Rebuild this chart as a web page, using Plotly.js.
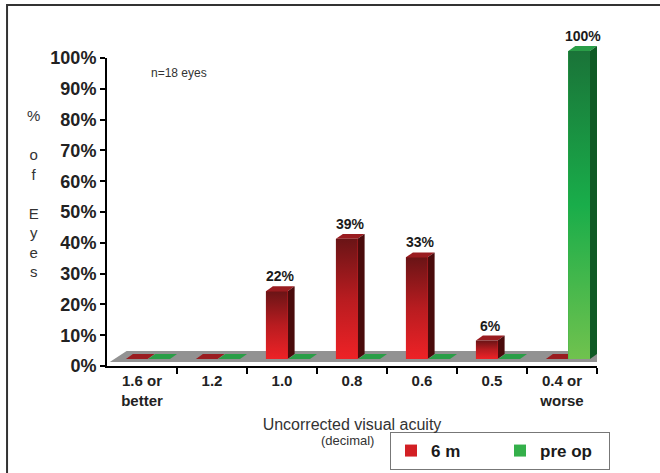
<!DOCTYPE html>
<html><head><meta charset="utf-8">
<script src="https://cdn.plot.ly/plotly-3.0.1.min.js"></script>
<style>html,body{margin:0;padding:0;background:#fff}#chart{width:660px;height:473px}</style>
</head><body><div id="chart"></div>
<script>
// ---- data ----
const categories = ["1.6 or<br>better", "1.2", "1.0", "0.8", "0.6", "0.5", "0.4 or<br>worse"];
const sixMonths = [0, 0, 22, 39, 33, 6, 0];
const preOp = [0, 0, 0, 0, 0, 0, 100];
const seriesNames = ["6 m", "pre op"];
const yTicks = [0, 10, 20, 30, 40, 50, 60, 70, 80, 90, 100];
const yTickText = yTicks.map(v => v + "%");

// ---- styles ----
const FONT = "Liberation Sans, Arial, sans-serif";
const BAR_W = 0.31, DX = 0.1, DY = 1.6;
const styles = [
  {off: -0.23, base: "#d21f24", top: "#9a1c20", side: "#4a0b0c",
   grad: [[0, "#ee2226"], [0.5, "#b81c20"], [1, "#6a1416"]]},
  {off: 0.09, base: "#34b04a", top: "#2a9e48", side: "#0f5a25",
   grad: [[0, "#70c24e"], [0.5, "#19ad4a"], [1, "#1a7338"]]}
];
const series = [sixMonths, preOp];
const idx = categories.map((c, i) => i);

const traces = [];
const shapes = [];
const annotations = [];

// floor
shapes.push({type: "path", xref: "x", yref: "y", layer: "below",
  path: "M-0.46,1.3L6.5,1.3L6.74,4.9L-0.22,4.9Z",
  fillcolor: "#929292", line: {width: 0}});

series.forEach((vals, s) => {
  const st = styles[s];
  traces.push({type: "bar", name: seriesNames[s], x: idx, y: vals,
    xaxis: "x", yaxis: "y2", offset: st.off, width: BAR_W,
    marker: {color: st.base, line: {width: 0}}, hoverinfo: "y+name"});
  vals.forEach((v, i) => {
    const x0 = i + st.off, x1 = x0 + BAR_W;
    // top face
    shapes.push({type: "path", xref: "x", yref: "y2", layer: "below",
      path: `M${x0},${v}L${x1},${v}L${x1 + DX},${v + DY}L${x0 + DX},${v + DY}Z`,
      fillcolor: st.top, line: {width: 0}});
    if (v > 0) {
      // side face
      shapes.push({type: "path", xref: "x", yref: "y2", layer: "below",
        path: `M${x1},0L${x1 + DX},${DY}L${x1 + DX},${v + DY}L${x1},${v}Z`,
        fillcolor: st.side, line: {width: 0}});
      // gradient front face
      traces.push({type: "scatter", x: [x0, x1, x1, x0, x0], y: [0, 0, v, v, 0],
        xaxis: "x", yaxis: "y2", mode: "lines", line: {width: 0}, fill: "toself",
        fillgradient: {type: "vertical", colorscale: st.grad},
        hoverinfo: "skip", showlegend: false});
      annotations.push({x: x0 + BAR_W / 2 + DX / 2, y: v + DY, xref: "x", yref: "y2",
        xanchor: "center", yanchor: "bottom", showarrow: false, text: v + "%",
        font: {family: FONT, size: 14, weight: "bold", color: "#1a1a1a"}});
    }
  });
});

annotations.push({xref: "paper", yref: "paper", x: 0.147, y: 0.8468, xanchor: "center",
  yanchor: "middle", showarrow: false,
  text: "n=18 eyes", font: {family: FONT, size: 12, color: "#333"}});
annotations.push({xref: "paper", yref: "paper", x: -0.151, y: 0.5, xanchor: "center",
  yanchor: "middle", showarrow: false,
  text: "%<br> <br>o<br>f<br> <br>E<br>y<br>e<br>s", align: "center",
  font: {family: FONT, size: 15, color: "#333"}});
annotations.push({xref: "paper", yref: "paper", x: 0.49, y: -0.2139, xanchor: "center",
  yanchor: "middle", showarrow: false,
  text: "(decimal)", font: {family: FONT, size: 13, color: "#333"}});

// outer frame
shapes.push({type: "rect", xref: "paper", yref: "paper", x0: -0.204, x1: 1.3,
  y0: -0.6, y1: 1.0434, line: {color: "#333", width: 2}, layer: "below"});

const layout = {
  width: 660, height: 473,
  margin: {l: 107, r: 63, t: 20, b: 107, autoexpand: false},
  paper_bgcolor: "#fff", plot_bgcolor: "rgba(0,0,0,0)",
  font: {family: FONT, color: "#1a1a1a"},
  showlegend: true,
  xaxis: {range: [-0.5, 6.5], tickmode: "array", tickvals: idx, ticktext: categories,
    ticks: "", showline: true, linecolor: "#000", linewidth: 2, showgrid: false, zeroline: false,
    tickfont: {family: FONT, size: 15, weight: "bold", color: "#222"},
    minor: {tickmode: "array", tickvals: [0.5, 1.5, 2.5, 3.5, 4.5, 5.5, 6.5],
      ticks: "outside", ticklen: 6, tickwidth: 2, tickcolor: "#000"},
    title: {text: "Uncorrected visual acuity", standoff: 11,
      font: {family: FONT, size: 16, color: "#333"}},
    anchor: "y", fixedrange: true},
  yaxis: {range: [0, 100], domain: [0, 0.89017], tickmode: "array", tickvals: yTicks,
    ticktext: yTickText, ticks: "outside", ticklen: 5, tickwidth: 2, tickcolor: "#000",
    showline: true, linecolor: "#000", linewidth: 2, showgrid: false, zeroline: false,
    tickfont: {family: FONT, size: 18, weight: "bold", color: "#222"}, anchor: "x"},
  yaxis2: {range: [0, 110.06], domain: [0.02023, 1], visible: false, anchor: "x",
    showgrid: false, zeroline: false},
  legend: {orientation: "h", x: 0.5776, xanchor: "left", y: -0.3006, yanchor: "bottom",
    bordercolor: "#777", borderwidth: 1, bgcolor: "#fff",
    font: {family: FONT, size: 17, weight: "bold", color: "#1a1a1a"},
    entrywidth: 64, entrywidthmode: "pixels", traceorder: "normal"},
  shapes: shapes, annotations: annotations, bargap: 0
};

Plotly.newPlot("chart", traces, layout, {displayModeBar: false, staticPlot: true});
</script>
</body></html>
